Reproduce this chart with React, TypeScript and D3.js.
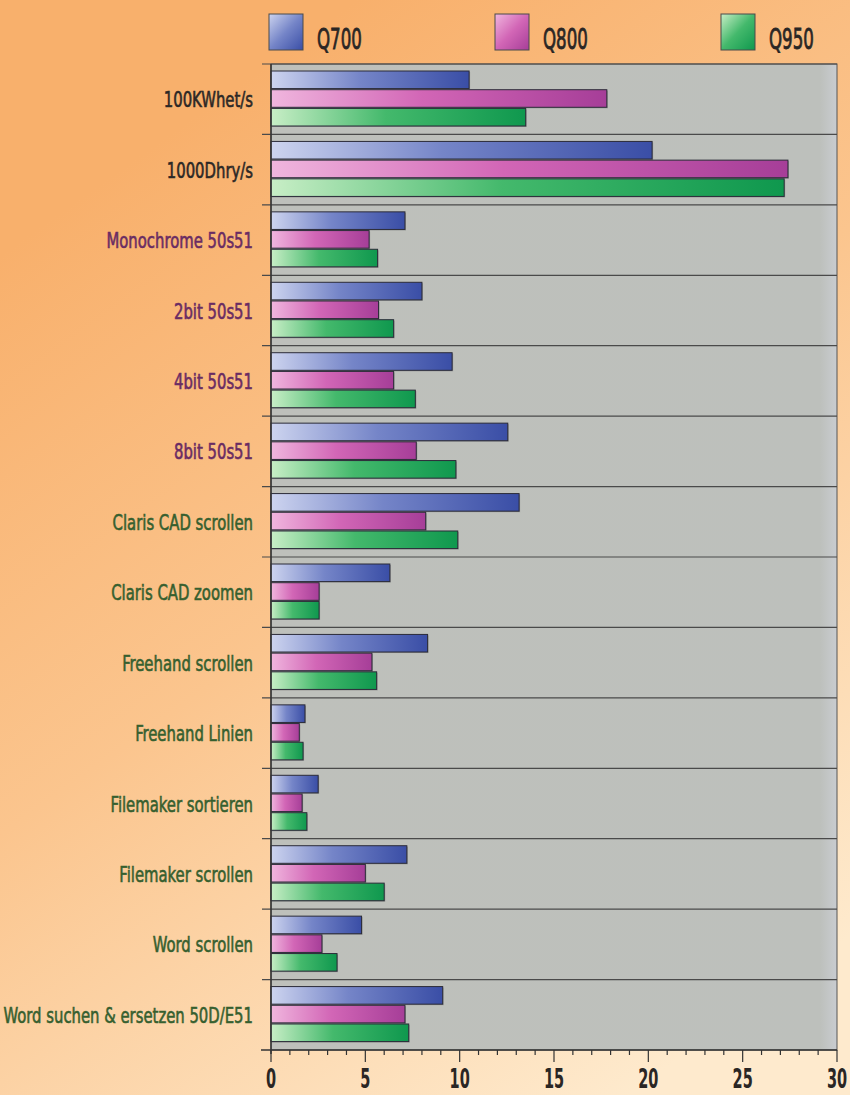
import React from "react";
import * as d3 from "d3";

const categories = [
  "100KWhet/s",
  "1000Dhry/s",
  "Monochrome 50s51",
  "2bit 50s51",
  "4bit 50s51",
  "8bit 50s51",
  "Claris CAD scrollen",
  "Claris CAD zoomen",
  "Freehand scrollen",
  "Freehand Linien",
  "Filemaker sortieren",
  "Filemaker scrollen",
  "Word scrollen",
  "Word suchen & ersetzen 50D/E51",
];
const categoryGroup = [0, 0, 1, 1, 1, 1, 2, 2, 2, 2, 2, 2, 2, 2];
const series = ["Q700", "Q800", "Q950"];
const q700 = [10.5, 20.2, 7.1, 8.0, 9.6, 12.55, 13.15, 6.3, 8.3, 1.8, 2.5, 7.2, 4.8, 9.1];
const q800 = [17.8, 27.4, 5.2, 5.7, 6.5, 7.7, 8.2, 2.55, 5.35, 1.5, 1.65, 5.0, 2.7, 7.1];
const q950 = [13.5, 27.2, 5.65, 6.5, 7.65, 9.8, 9.9, 2.55, 5.6, 1.7, 1.9, 6.0, 3.5, 7.3];
const values = [q700, q800, q950];
const xTicks = [0, 5, 10, 15, 20, 25, 30];

const W = 850;
const H = 1095;
const groupColors = ["#2c2826", "#6a2c63", "#365f2f"];
const gradStops = [
  ["#cdd4ef", "#7585c8", "#3a4ea6"],
  ["#f0b6de", "#d266b6", "#a63e98"],
  ["#c8eec6", "#44b96c", "#0f984e"],
];
const FONT = "'DejaVu Sans Condensed', 'Liberation Sans Narrow', sans-serif";

export default function App() {
  const x = d3.scaleLinear().domain([0, 30]).range([271, 837]);
  const y = d3.scaleBand<string>().domain(categories).range([64, 1050]).paddingInner(0);
  const inner = d3
    .scaleBand<string>()
    .domain(series)
    .range([7, 62])
    .paddingInner(0.06);
  const legendX = d3.scalePoint<string>().domain(series).range([269, 721]);
  const minor = d3.range(0, 31, 1);
  const plotTop = 64;
  const plotBottom = 1050;

  return (
    <svg
      width={W}
      height={H}
      style={{ position: "absolute", left: 0, top: 0 }}
      xmlns="http://www.w3.org/2000/svg"
    >
      <defs>
        <linearGradient id="bg" x1="0.15" y1="0.15" x2="0.65" y2="1.05">
          <stop offset="0" stopColor="#f8b06c" />
          <stop offset="0.45" stopColor="#fbc58e" />
          <stop offset="1" stopColor="#feeacd" />
        </linearGradient>
        <linearGradient id="plotbg" x1="0" y1="0" x2="1" y2="0">
          <stop offset="0" stopColor="#bec0bb" />
          <stop offset="0.97" stopColor="#bdc0bc" />
          <stop offset="1" stopColor="#c9ccd0" />
        </linearGradient>
        {gradStops.map((s, i) => (
          <linearGradient key={i} id={`bar${i}`} x1="0" y1="0" x2="1" y2="0">
            <stop offset="0" stopColor={s[0]} />
            <stop offset="0.45" stopColor={s[1]} />
            <stop offset="1" stopColor={s[2]} />
          </linearGradient>
        ))}
        {gradStops.map((s, i) => (
          <linearGradient key={"l" + i} id={`leg${i}`} x1="0" y1="0" x2="1" y2="1">
            <stop offset="0" stopColor={s[0]} />
            <stop offset="0.5" stopColor={s[1]} />
            <stop offset="1" stopColor={s[2]} />
          </linearGradient>
        ))}
      </defs>
      <rect x={0} y={0} width={W} height={H} fill="url(#bg)" />

      {/* legend */}
      {series.map((s, i) => {
        const lx = legendX(s)!;
        return (
          <g key={s}>
            <rect
              x={lx}
              y={14}
              width={34}
              height={36}
              fill={`url(#leg${i})`}
              stroke="#4a4a4a"
              strokeWidth={1}
            />
            <text
              transform={`translate(${lx + 48},49) scale(0.66,1)`}
              fontFamily={FONT}
              fontSize={28}
              fill="#2a2624"
              stroke="#2a2624"
              strokeWidth={0.8}
            >
              {s}
            </text>
          </g>
        );
      })}

      {/* plot area */}
      <rect
        x={x(0)}
        y={plotTop}
        width={x(30) - x(0)}
        height={plotBottom - plotTop}
        fill="url(#plotbg)"
        stroke="#555"
        strokeWidth={1}
      />

      {/* row separators */}
      {categories.map((c, i) =>
        i === 0 ? null : (
          <line
            key={"sep" + c}
            x1={x(0) - 9}
            x2={x(30)}
            y1={y(c)!}
            y2={y(c)!}
            stroke="#4a4a4a"
            strokeWidth={1.2}
          />
        )
      )}
      <line x1={x(0) - 9} x2={x(30)} y1={plotTop} y2={plotTop} stroke="#4a4a4a" strokeWidth={1.2} />

      {/* bars */}
      {categories.map((c, ci) =>
        series.map((s, si) => {
          const v = values[si][ci];
          const by = y(c)! + inner(s)!;
          return (
            <g key={c + s}>
              <rect
                x={x(0)}
                y={by + 1}
                width={x(v) - x(0) + 1}
                height={inner.bandwidth()}
                fill="#6c6c6c"
                opacity={0.5}
              />
              <rect
                x={x(0)}
                y={by}
                width={x(v) - x(0)}
                height={inner.bandwidth()}
                fill={`url(#bar${si})`}
                stroke="#2b2b38"
                strokeWidth={1}
              />
            </g>
          );
        })
      )}

      {/* y axis */}
      <line x1={x(0)} x2={x(0)} y1={plotTop} y2={plotBottom + 4} stroke="#333" strokeWidth={1.5} />

      {/* x axis */}
      <line x1={x(0) - 10} x2={x(30)} y1={plotBottom} y2={plotBottom} stroke="#333" strokeWidth={1.5} />
      {minor.map((m) => (
        <line
          key={"m" + m}
          x1={x(m)}
          x2={x(m)}
          y1={plotBottom}
          y2={plotBottom + (m % 5 === 0 ? 12 : 5)}
          stroke="#333"
          strokeWidth={1.2}
        />
      ))}
      {xTicks.map((t) => (
        <text
          key={"t" + t}
          transform={`translate(${x(t)},1088) scale(0.62,1)`}
          textAnchor="middle"
          fontFamily={FONT}
          fontWeight="bold"
          fontSize={26}
          fill="#2a2624"
        >
          {t}
        </text>
      ))}

      {/* category labels */}
      {categories.map((c, i) => (
        <text
          key={"lab" + c}
          transform={`translate(253,${y(c)! + y.bandwidth() / 2 + 8}) scale(0.75,1)`}
          textAnchor="end"
          fontFamily={FONT}
          fontSize={22}
          fill={groupColors[categoryGroup[i]]}
          stroke={groupColors[categoryGroup[i]]}
          strokeWidth={0.6}
        >
          {c}
        </text>
      ))}
    </svg>
  );
}
